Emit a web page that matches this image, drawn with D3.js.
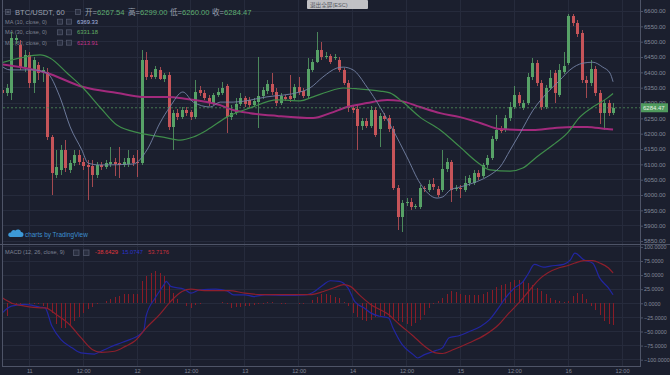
<!DOCTYPE html>
<html><head><meta charset="utf-8">
<script src="https://cdn.jsdelivr.net/npm/d3@7"></script>
<style>
html,body{margin:0;padding:0;background:#1b1f2e;}
svg{display:block;font-family:"Liberation Sans","Noto Sans CJK SC","DejaVu Sans",sans-serif;}
</style></head><body>
<svg id="c" width="670" height="375"></svg>
<script>
// ---------- DATA (hourly candles, first candle = 10th 18:00) ----------
const firstHour = -6;
const opens = [
6342,6333,6333,6505,6489,6417,6457,6365,6424,6398,
6401,6189,6065,6082,6147,6082,6104,6130,6108,6098,
6095,6065,6098,6091,6101,6108,6104,6098,6101,6121,
6108,6104,6440,6391,6385,6408,6378,6391,6222,6267,
6254,6277,6271,6254,6342,6333,6316,6300,6326,6333,
6356,6254,6267,6297,6316,6310,6294,6303,6323,6339,
6362,6336,6300,6320,6323,6316,6352,6339,6323,6408,
6434,6473,6450,6453,6447,6440,6408,6365,6284,6281,
6225,6241,6225,6277,6215,6258,6251,6215,6023,5928,
5974,5977,5961,5961,6023,6016,6036,6020,6016,6085,
6108,6020,6023,6016,6039,6039,6072,6062,6098,6121,
6183,6212,6212,6251,6287,6326,6284,6300,6385,6430,
6365,6287,6349,6398,6326,6401,6430,6584,6561,6528,
6375,6365,6411,6333,6267,6300,6267.54];
const highs = [
6375,6362,6532,6522,6505,6473,6466,6450,6434,6417,
6414,6196,6147,6163,6179,6114,6147,6147,6121,6114,
6114,6108,6108,6114,6157,6121,6157,6121,6147,6130,
6147,6473,6466,6401,6421,6417,6398,6401,6277,6281,
6287,6287,6277,6375,6356,6342,6326,6333,6349,6369,
6362,6294,6316,6333,6323,6320,6316,6450,6352,6375,
6398,6349,6333,6326,6391,6362,6385,6349,6447,6444,
6532,6499,6466,6460,6460,6450,6414,6375,6294,6294,
6251,6251,6290,6287,6267,6267,6261,6225,6033,5984,
5990,5990,5971,6033,6029,6049,6056,6029,6147,6121,
6114,6033,6033,6062,6065,6082,6082,6104,6130,6192,
6261,6225,6261,6303,6356,6336,6310,6398,6447,6440,
6375,6359,6408,6408,6427,6466,6590,6590,6571,6538,
6388,6440,6421,6342,6310,6310,6299];
const lows = [
6310,6323,6310,6492,6408,6401,6349,6333,6375,6369,
6179,6000,6056,6065,6075,6072,6095,6098,6082,5984,
6026,6056,6082,6085,6091,6062,6056,6091,6091,6095,
6059,6098,6375,6378,6378,6375,6369,6212,6147,6245,
6248,6258,6245,6248,6323,6310,6290,6294,6320,6326,
6202,6245,6261,6290,6287,6284,6287,6218,6313,6329,
6326,6290,6294,6307,6303,6310,6326,6316,6316,6401,
6430,6440,6444,6427,6440,6401,6359,6271,6267,6147,
6212,6218,6218,6189,6157,6241,6206,6016,5886,5879,
5964,5951,5954,5954,6010,6010,6016,5994,6010,6075,
5977,6013,5990,6010,6029,6033,6049,6056,6088,6114,
6176,6202,6206,6241,6281,6290,6277,6294,6375,6356,
6277,6281,6342,6300,6320,6395,6424,6551,6515,6365,
6316,6356,6323,6232,6212,6258,6260];
const closes = [
6333,6349,6512,6512,6417,6457,6365,6440,6398,6408,
6189,6072,6091,6147,6088,6104,6130,6108,6095,6091,
6065,6098,6091,6104,6108,6101,6098,6108,6121,6104,
6104,6440,6385,6385,6411,6378,6391,6222,6267,6254,
6277,6267,6254,6336,6333,6316,6300,6326,6336,6349,
6254,6267,6297,6316,6297,6294,6307,6323,6342,6362,
6336,6300,6323,6313,6313,6352,6336,6323,6411,6434,
6473,6450,6453,6434,6450,6408,6365,6284,6277,6225,
6241,6225,6277,6196,6258,6248,6215,6023,5928,5974,
5977,5961,5964,6023,6020,6036,6026,6000,6085,6108,
6016,6023,6020,6039,6056,6072,6059,6098,6121,6183,
6212,6209,6251,6287,6326,6300,6300,6385,6430,6365,
6287,6349,6382,6333,6408,6421,6584,6561,6525,6375,
6365,6411,6333,6267,6300,6267,6284.47];

// moving averages (hour offset, value)
const ma10Hours = [-6.5,-4.3,0.8,3.9,6.8,9.1,11.7,13.1,15.7,23.1,26.2,29.1,31.3,34.2,36.5,40.3,42.5,45.4,52.9,60.3,62.5,65.4,68.5,69.9,72.1,75.2,78.1,81,84.1,87,90.8,92.1,93.7,95.9,98.8,101.9,103.3,104.8,107.1,109.3,112.2,115.3,118.2,120.4,123.3,125.5,127.7,129.3,130];
const ma10Values = [6424,6408,6408,6398,6320,6222,6147,6104,6098,6101,6147,6235,6287,6336,6303,6287,6303,6303,6320,6336,6349,6385,6414,6417,6408,6352,6287,6212,6124,6039,5990,5994,6016,6026,6039,6059,6072,6091,6147,6202,6277,6333,6375,6408,6430,6433,6417,6398,6369.33];
const ma30Hours = [-6.5,-2,2.4,4.6,8.4,12,15.7,19.5,24.6,29.8,33.6,36.5,39.6,44,49.2,55.2,60.3,63.2,66.3,69.9,73.4,78.1,80.3,83.2,87,91.5,95.9,99.7,102.6,107.1,109.9,113,116.6,119.8,122.6,125.5,128.7,130];
const ma30Values = [6430,6447,6457,6447,6398,6349,6287,6228,6202,6189,6179,6189,6212,6254,6284,6310,6307,6320,6336,6349,6346,6339,6333,6303,6254,6212,6157,6108,6082,6078,6088,6124,6163,6202,6254,6287,6316,6331.18];
const ma60Hours = [-6.5,3.9,12,19.6,25.3,30.7,35.1,39.6,42.5,45.4,49.2,55.2,63.2,67,70.8,75.2,79.7,82.6,87,91.5,95.9,100.4,104.8,112.2,116.6,121.1,124.2,128.7,130];
const ma60Values = [6427,6398,6352,6333,6320,6320,6313,6303,6293,6277,6267,6258,6251,6267,6287,6300,6310,6307,6287,6267,6254,6235,6215,6212,6218,6222,6222,6215,6213.91];

// MACD (12, 26, close, 9)
const macdHours = [-6,-4,-1,2.5,3.5,5,7,9.5,11.5,14.5,16,18.5,20.5,22.5,24.5,25.5,26,28,30,30.5,31.5,34.5,36,38,41.5,44,45.5,48,50,52.5,57,61.5,63.5,65.5,67,69,71,72.5,74.5,76,78,80,81,83,85.5,86.5,88,90.5,92,93.5,95.5,98,100.5,102.5,104.5,106,108,110,111,112.5,114.5,116,119,120.5,121.5,123.5,125.5,127,129,130];
const macdValues = [-17,-5,-2,-7,-8,-40,-64,-79,-88,-90,-85,-76,-70,-64,-56,-48,-23,9,33,39,30,25,18,24,25,22,15,15,12,15,14,15,21,33,40,39,27,3,-8,-17,-23,-26,-44,-73,-91,-97,-91,-84,-79,-61,-58,-50,-41,-29,-8,9,27,39,51,69,64,66,69,77,89,77,71,45,27,15.0747];
const signalHours = [-6,-4,-1,2.5,3.5,6,9,11.5,14,16,19,21.5,23.5,26,29,31.5,34,36,39,44.5,48,51.5,62.5,65.5,68,70,71.5,73.5,76,80,82.5,85.5,88,90.5,92,94.5,98,101.5,104.5,106.5,109,111.5,113.5,115.5,118,120,121.5,123.5,125.5,127,129,130];
const signalValues = [9.5,0.6,-5,-8,-8,-20,-38,-61,-82,-87,-85,-76,-67,-44,-20,3.5,21,25,22.5,22.5,18,15.4,15.4,21,28,33,30,15,-2,-20,-38,-58,-76,-88,-89,-82,-70,-56,-38,-20,0.6,24,42,54,63,67,71.5,75.6,75.6,71.5,62.6,53.7176];
const histValues = [
-10,-22,-2,-2,-1,0,-1,-1,-2,-5,
-11,-18,-37,-43,-43,-40,-31,-25,-17,-11,
-6.5,-2,1,4,7,11,13,16,17,16,
17,40,48,54,57,54,48,34,19,7,
0,-5,-8,-3,-1,0,0,0.5,1,2.4,
-2,-8,-6.5,-6,-5,-5,-3,-2,-1,2.4,
2.4,0,-0.6,-0.6,0,0,-0.6,-0.6,1.2,5,
11,16,17,15,12,9,3,-5,-17,-25,
-30,-31,-29,-25,-23,-22,-25,-28,-31,-34,
-37,-40,-35,-30,-20,-9,-0.6,4,9,17,
22,20,17,15,14,15,15,16.5,19.5,23,
29,32,35,38,41,42,40,36,32.5,28,
22,16,10,6.5,4,2.4,4,13.6,19,17,
7,-5,-12,-21,-31,-37,-38.6429];

const priceTicks = d3.range(5850, 6601, 50);
const macdTicks = [-100,-75,-50,-25,0,25,50,75,100];
const timeTickHours = [0,12,24,36,48,60,72,84,96,108,120,132];
const timeTickLabels = ["11","12:00","12","12:00","13","12:00","14","12:00","15","12:00","16","12:00"];

const legendLabels = ["开=","高=","低=","收="];
const legendValues = ["6267.54","6299.00","6260.00","6284.47"];
const maNames = ["MA (10, close, 0)","MA (30, close, 0)","MA (60, close, 0)"];
const maLast = ["6369.33","6331.18","6213.91"];
const macdLegend = ["-38.6429","15.0747","53.7176"];

// ---------- LAYOUT ----------
const plotL = 3, plotR = 640, mainT = 0, mainB = 244, macdT = 246, macdB = 366;
const base = new Date(2018, 7, 11, 0, 0, 0);
const hourDate = h => new Date(base.getTime() + h * 3600000);

const x = d3.scaleTime().domain([hourDate(-5.86), hourDate(136)]).range([plotL, plotR]);
const y = d3.scaleLinear().domain([5840.3, 6635.9]).range([mainB, mainT]);
const ym = d3.scaleLinear().domain([-111.2, 101.6]).range([macdB, macdT]);

const C = {
  bg:"#1b1f2e", grid:"#262b3c", axis:"#4e5467", text:"#838999",
  up:"#57a267", down:"#c65459", ma10:"#7583a6", ma30:"#3f8d4b", ma60:"#a22a7c",
  macd:"#2226a0", signal:"#8d1f2c", hist:"#8a1c27"
};

const svg = d3.select("#c");
svg.append("rect").attr("width",670).attr("height",375).attr("fill",C.bg);

const defs = svg.append("defs");
defs.append("clipPath").attr("id","cm").append("rect").attr("x",plotL).attr("y",mainT).attr("width",plotR-plotL).attr("height",mainB-mainT);
defs.append("clipPath").attr("id","cd").append("rect").attr("x",plotL).attr("y",macdT).attr("width",plotR-plotL).attr("height",macdB-macdT);

// ---------- GRID ----------
const g = svg.append("g").attr("shape-rendering","crispEdges").attr("stroke",C.grid);
priceTicks.forEach(p => g.append("line").attr("x1",plotL).attr("x2",plotR).attr("y1",y(p)).attr("y2",y(p)));
macdTicks.forEach(v => g.append("line").attr("x1",plotL).attr("x2",plotR).attr("y1",ym(v)).attr("y2",ym(v)));
timeTickHours.forEach(h => g.append("line").attr("x1",x(hourDate(h))).attr("x2",x(hourDate(h))).attr("y1",0).attr("y2",macdB));

// ---------- LEGEND (under candles) ----------
const lg = svg.append("g");
function box(gr, bx, by, s){
  gr.append("rect").attr("x",bx+0.5).attr("y",by+0.5).attr("width",s).attr("height",s)
    .attr("fill","#2a2f40").attr("stroke","#50566a").attr("stroke-width",0.8);
}
box(lg, 5, 9, 5);
lg.append("line").attr("x1",6.5).attr("x2",9.5).attr("y1",12).attr("y2",12).attr("stroke","#8a90a0").attr("stroke-width",0.8);
lg.append("text").attr("x",15).attr("y",15).attr("font-size",7.6).attr("fill","#9aa0ae").text("BTC/USDT, 60");
box(lg, 75, 9, 5);
const lgx = [85,128,170,212];
legendLabels.forEach((l,i)=>{
  const t = lg.append("text").attr("x",lgx[i]).attr("y",15).attr("font-size",7.6);
  t.append("tspan").attr("fill","#9aa0ae").text(l);
  t.append("tspan").attr("fill","#5fae72").text(legendValues[i]);
});
const maCol = ["#a9bbe0","#62b065","#c2338d"];
[23.7,34.3,44.7].forEach((ty,i)=>{
  lg.append("text").attr("x",5).attr("y",ty).attr("font-size",5.6).attr("fill","#7d8292").text(maNames[i]);
  box(lg,57,ty-5,5); box(lg,66,ty-5,5);
  lg.append("text").attr("x",77).attr("y",ty).attr("font-size",5.8).attr("fill",maCol[i]).text(maLast[i]);
});

// ---------- CANDLES ----------
const candles = opens.map((o,i)=>({t:hourDate(firstHour+i), o, h:highs[i], l:lows[i], c:closes[i]}));
const cg = svg.append("g").attr("clip-path","url(#cm)").attr("shape-rendering","crispEdges");
cg.selectAll("line.w").data(candles).join("line")
  .attr("x1",d=>Math.round(x(d.t))+0.5).attr("x2",d=>Math.round(x(d.t))+0.5)
  .attr("y1",d=>y(Math.max(d.h,d.o,d.c))).attr("y2",d=>y(Math.min(d.l,d.o,d.c)))
  .attr("stroke",d=>d.c>=d.o?C.up:C.down).attr("stroke-width",1).attr("opacity",0.8);
cg.selectAll("rect.b").data(candles).join("rect")
  .attr("x",d=>Math.round(x(d.t))-1).attr("width",3)
  .attr("y",d=>y(Math.max(d.o,d.c)))
  .attr("height",d=>Math.max(1,Math.abs(y(d.o)-y(d.c))))
  .attr("fill",d=>d.c>=d.o?C.up:C.down);

// ---------- MOVING AVERAGES ----------
const mk = (hrs, vals, sc) => d3.line().curve(d3.curveMonotoneX)(hrs.map((h,i)=>[x(hourDate(h)), sc(vals[i])]));
const mg = svg.append("g").attr("clip-path","url(#cm)").attr("fill","none");
mg.append("path").attr("d",mk(ma60Hours,ma60Values,y)).attr("stroke",C.ma60).attr("stroke-width",2);
mg.append("path").attr("d",mk(ma30Hours,ma30Values,y)).attr("stroke",C.ma30).attr("stroke-width",1.2);
mg.append("path").attr("d",mk(ma10Hours,ma10Values,y)).attr("stroke",C.ma10).attr("stroke-width",0.9);

// current price line
const last = closes[closes.length-1];
svg.append("line").attr("x1",plotL).attr("x2",plotR).attr("y1",y(last)).attr("y2",y(last))
  .attr("stroke","#4f8f5a").attr("stroke-width",0.8).attr("stroke-dasharray","2,2");

// ---------- MACD ----------
const dg = svg.append("g").attr("clip-path","url(#cd)");
dg.append("g").attr("shape-rendering","crispEdges").selectAll("line").data(histValues).join("line")
  .attr("x1",(d,i)=>Math.round(x(hourDate(firstHour+i)))+0.5).attr("x2",(d,i)=>Math.round(x(hourDate(firstHour+i)))+0.5)
  .attr("y1",ym(0)).attr("y2",d=>ym(d)).attr("stroke",C.hist).attr("stroke-width",1);
dg.append("path").attr("d",mk(macdHours,macdValues,ym)).attr("fill","none").attr("stroke",C.macd).attr("stroke-width",1.2);
dg.append("path").attr("d",mk(signalHours,signalValues,ym)).attr("fill","none").attr("stroke",C.signal).attr("stroke-width",1.2);

// ---------- FRAME ----------
const fr = svg.append("g").attr("stroke",C.axis).attr("shape-rendering","crispEdges");
fr.append("line").attr("x1",0).attr("x2",670).attr("y1",244.5).attr("y2",244.5).attr("stroke-width",1.5);
fr.append("line").attr("x1",plotR+0.5).attr("x2",plotR+0.5).attr("y1",0).attr("y2",macdB);
fr.append("line").attr("x1",2.5).attr("x2",2.5).attr("y1",0).attr("y2",macdB);
fr.append("line").attr("x1",2).attr("x2",plotR+1).attr("y1",macdB+0.5).attr("y2",macdB+0.5);

// ---------- AXES ----------
function styleAxis(sel, fs){
  sel.select(".domain").remove();
  sel.selectAll(".tick line").attr("stroke",C.axis);
  sel.selectAll(".tick text").attr("fill",C.text).attr("font-size",fs).attr("font-family","Liberation Sans, DejaVu Sans, sans-serif");
}
svg.append("g").attr("transform",`translate(${plotR},0)`)
  .call(d3.axisRight(y).tickValues(priceTicks).tickSize(3).tickPadding(1).tickFormat(d3.format(".2f")))
  .call(s=>styleAxis(s,6));
svg.append("g").attr("transform",`translate(${plotR},0)`)
  .call(d3.axisRight(ym).tickValues(macdTicks).tickSize(3).tickPadding(1).tickFormat(d3.format(".4f")))
  .call(s=>styleAxis(s,5.4));
svg.append("g").attr("transform",`translate(0,${macdB})`)
  .call(d3.axisBottom(x).tickValues(timeTickHours.map(hourDate)).tickSize(0).tickPadding(3).tickFormat((d,i)=>timeTickLabels[i]))
  .call(s=>styleAxis(s,5.6));

// last price label
const ly = y(last);
svg.append("rect").attr("x",plotR+1).attr("y",ly-4.5).attr("width",27).attr("height",9).attr("fill","#4f9a5d");
svg.append("text").attr("x",plotR+3).attr("y",ly+2.2).attr("font-size",6).attr("fill","#e6efe6").text(d3.format(".2f")(last));

// MACD legend
const ml = svg.append("g");
ml.append("text").attr("x",5).attr("y",254.3).attr("font-size",5.6).attr("fill","#7d8292").text("MACD (12, 26, close, 9)");
box(ml,73,249.5,5.5); box(ml,83,249.5,5.5);
const mlx = [95,122,148], mlc = ["#e0363d","#2a33c8","#c8303c"];
macdLegend.forEach((v,i)=>ml.append("text").attr("x",mlx[i]).attr("y",254.3).attr("font-size",5.8).attr("fill",mlc[i]).text(v));

// TradingView badge
const tv = svg.append("g");
tv.append("path").attr("d","M10,237 h11 a2.5,2.5 0 0 0 0,-5 a3.2,3.2 0 0 0 -5.5,-1.5 a2.8,2.8 0 0 0 -4.5,2 a2.2,2.2 0 0 0 -1,4.5 z").attr("fill","#3d9ad8");
tv.append("text").attr("x",25).attr("y",236.5).attr("font-size",6.4).attr("fill","#3d8fd0").text("charts by TradingView");

// exit-fullscreen tooltip
svg.append("rect").attr("x",307).attr("y",0).attr("width",61).attr("height",9).attr("rx",1).attr("fill","#cfcfd2").attr("opacity",0.92);
svg.append("text").attr("x",310).attr("y",6.8).attr("font-size",5.6).attr("fill","#55585f").text("退出全屏(ESC)");
</script>
</body></html>
